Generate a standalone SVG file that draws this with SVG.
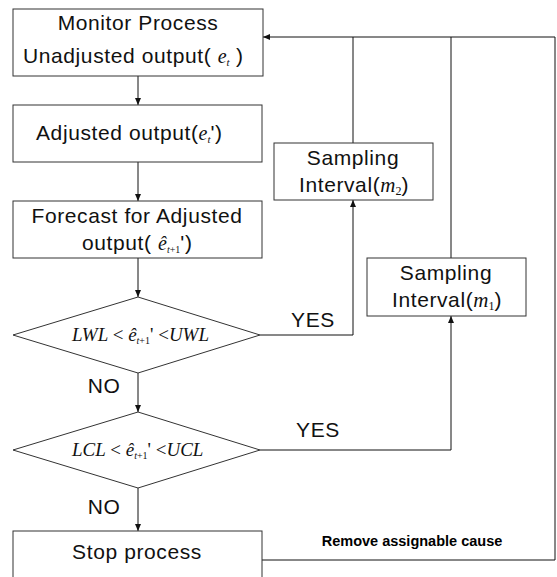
<svg xmlns="http://www.w3.org/2000/svg" width="557" height="577" viewBox="0 0 557 577">
<style>
.box{fill:#fff;stroke:#333;stroke-width:1}
.t{font-family:"Liberation Sans",Arial,sans-serif;font-size:21px;letter-spacing:0.6px;fill:#111}
.m{font-family:"Liberation Serif","Times New Roman",serif;font-style:italic;letter-spacing:0;fill:#111}
.r{font-family:"Liberation Serif","Times New Roman",serif;font-style:normal;letter-spacing:0;fill:#111}
.c{fill:none;stroke:#111;stroke-width:1}
.b{font-family:"Liberation Sans",Arial,sans-serif;font-size:14.5px;font-weight:bold;fill:#000}
</style>
<defs>
<marker id="ah" markerWidth="8" markerHeight="8" refX="7" refY="4" orient="auto" markerUnits="userSpaceOnUse">
<path d="M0,1 L7,4 L0,7 Z" fill="#111"/>
</marker>
</defs>
<rect width="557" height="577" fill="#fff"/>
<g id="connectors">
<line class="c" x1="138" y1="76" x2="138" y2="105" marker-end="url(#ah)"/>
<line class="c" x1="138" y1="162" x2="138" y2="201" marker-end="url(#ah)"/>
<line class="c" x1="138" y1="258" x2="138" y2="297" marker-end="url(#ah)"/>
<line class="c" x1="138" y1="373" x2="138" y2="412" marker-end="url(#ah)"/>
<line class="c" x1="138" y1="488" x2="138" y2="531" marker-end="url(#ah)"/>
<polyline class="c" points="260,335 353,335 353,200" marker-end="url(#ah)"/>
<polyline class="c" points="260,450 451,450 451,316" marker-end="url(#ah)"/>
<line class="c" x1="353" y1="143" x2="353" y2="37"/>
<line class="c" x1="451" y1="258" x2="451" y2="37"/>
<polyline class="c" points="262,560 555,560 555,37 263,37" marker-end="url(#ah)"/>
<text class="t" x="313" y="327" text-anchor="middle">YES</text>
<text class="t" x="318" y="437" text-anchor="middle">YES</text>
<text class="t" x="104" y="393" text-anchor="middle">NO</text>
<text class="t" x="104" y="514" text-anchor="middle">NO</text>
<text class="b" x="412" y="546" text-anchor="middle">Remove assignable cause</text>
</g>
<g id="monitor">
<rect class="box" x="13" y="9" width="250" height="67"/>
<text class="t" x="138" y="30" text-anchor="middle">Monitor Process</text>
<text class="t" x="23" y="63">Unadjusted output( <tspan class="m" font-size="20">e</tspan><tspan class="m" font-size="11" dy="3">t</tspan><tspan dy="-3">  )</tspan></text>
</g>
<g id="adjusted">
<rect class="box" x="13" y="105" width="249" height="57"/>
<text class="t" x="36" y="140">Adjusted output(<tspan class="m" font-size="20">e</tspan><tspan class="m" font-size="11" dy="3">t</tspan><tspan dy="-3">')</tspan></text>
</g>
<g id="forecast">
<rect class="box" x="13" y="201" width="249" height="57"/>
<text class="t" x="137" y="223" text-anchor="middle">Forecast for Adjusted</text>
<text class="t" x="82" y="250">output( <tspan class="m" font-size="20">ê</tspan><tspan class="m" font-size="10" dy="3">t</tspan><tspan class="r" font-size="10">+1</tspan><tspan dy="-3">')</tspan></text>
</g>
<g id="warning-check">
<polygon class="box" points="13,335 138,297 260,335 138,373"/>
<text class="m" font-size="19" x="72" y="341">LWL <tspan class="r">&lt;</tspan> ê<tspan font-size="10" dy="3">t</tspan><tspan class="r" font-size="10">+1</tspan><tspan class="r" dy="-3">' &lt;</tspan>UWL</text>
</g>
<g id="control-check">
<polygon class="box" points="13,450 138,412 260,450 138,488"/>
<text class="m" font-size="19" x="72" y="456">LCL <tspan class="r">&lt;</tspan> ê<tspan font-size="10" dy="3">t</tspan><tspan class="r" font-size="10">+1</tspan><tspan class="r" dy="-3">' &lt;</tspan>UCL</text>
</g>
<g id="sampling-m2">
<rect class="box" x="274" y="143" width="159" height="57"/>
<text class="t" x="353" y="165" text-anchor="middle">Sampling</text>
<text class="t" x="299" y="192">Interval(<tspan class="m" font-size="21">m</tspan><tspan class="r" font-size="12" dy="3">2</tspan><tspan dy="-3">)</tspan></text>
</g>
<g id="sampling-m1">
<rect class="box" x="367" y="258" width="159" height="58"/>
<text class="t" x="446" y="280" text-anchor="middle">Sampling</text>
<text class="t" x="392" y="307">Interval(<tspan class="m" font-size="21">m</tspan><tspan class="r" font-size="12" dy="3">1</tspan><tspan dy="-3">)</tspan></text>
</g>
<g id="stop">
<rect class="box" x="13" y="531" width="249" height="60"/>
<text class="t" x="137" y="559" text-anchor="middle">Stop process</text>
</g>
</svg>
